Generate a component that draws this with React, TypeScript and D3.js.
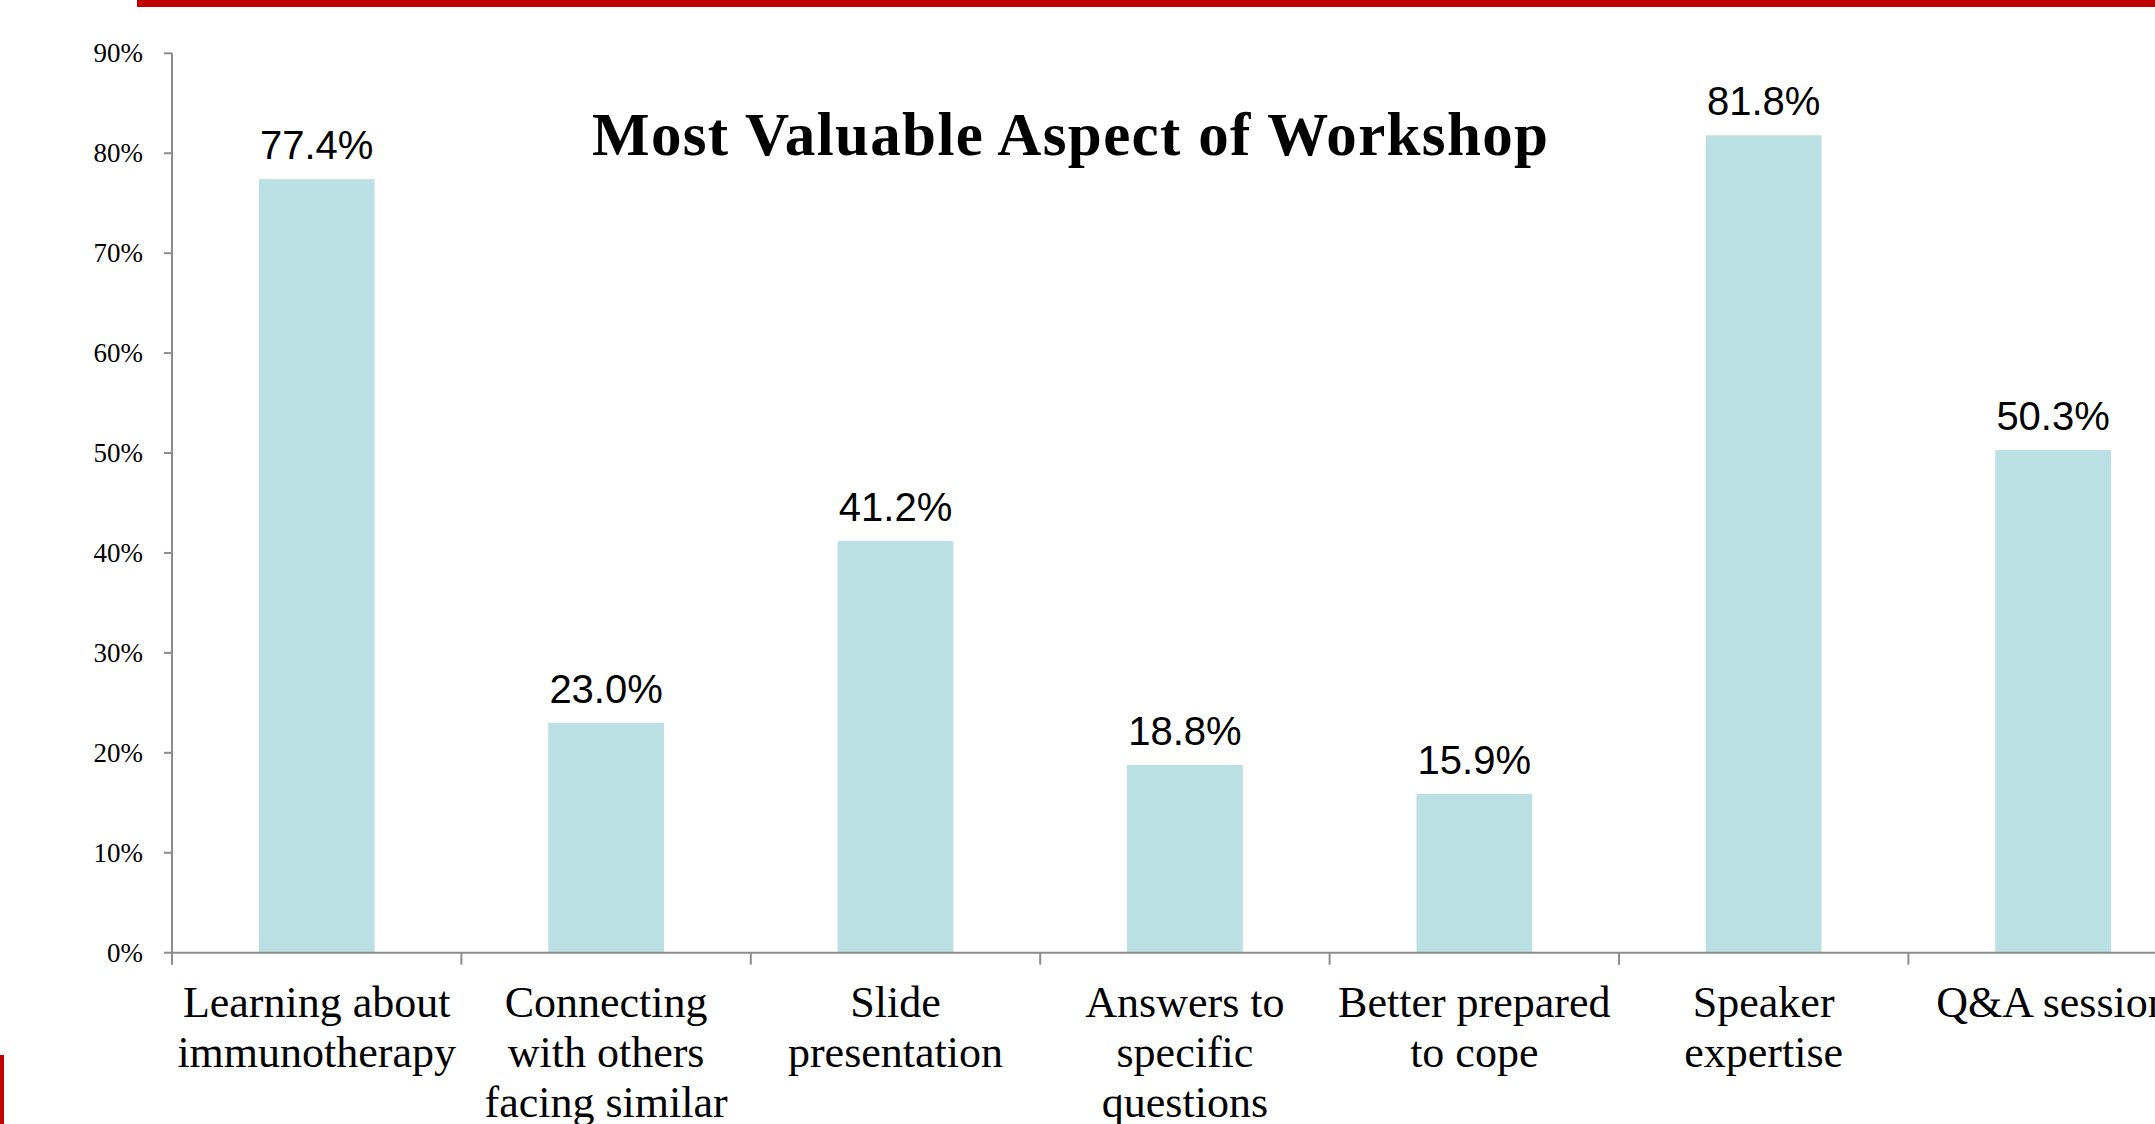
import React, { useRef, useEffect } from 'react';
import * as d3 from 'd3';

const categories = [
  'Learning about immunotherapy',
  'Connecting with others facing similar',
  'Slide presentation',
  'Answers to specific questions',
  'Better prepared to cope',
  'Speaker expertise',
  'Q&A session',
];

// label lines as they wrap under each bar
const categoryLines = [
  ['Learning about', 'immunotherapy'],
  ['Connecting', 'with others', 'facing similar'],
  ['Slide', 'presentation'],
  ['Answers to', 'specific', 'questions'],
  ['Better prepared', 'to cope'],
  ['Speaker', 'expertise'],
  ['Q&A session'],
];

const values = [77.4, 23.0, 41.2, 18.8, 15.9, 81.8, 50.3];

const yTicks = [0, 10, 20, 30, 40, 50, 60, 70, 80, 90];

const title = 'Most Valuable Aspect of Workshop';

const WIDTH = 2155;
const HEIGHT = 1124;

export default function App() {
  const svgRef = useRef<SVGSVGElement>(null);

  useEffect(() => {
    if (!svgRef.current) return;
    const svg = d3.select(svgRef.current);
    svg.selectAll('*').remove();

    const axisColor = '#8c8c8c';
    const serif = '"Liberation Serif", "Times New Roman", serif';
    const sans = '"Liberation Sans", Arial, sans-serif';

    const x0 = 172;
    const step = 289.4;

    // slots for ticks / labels
    const slot = d3.scaleBand<string>()
      .domain(categories)
      .range([x0, x0 + step * categories.length])
      .padding(0);

    // bars inside each slot
    const x = d3.scaleBand<string>()
      .domain(categories)
      .range([x0, x0 + step * categories.length])
      .paddingInner(0.6)
      .paddingOuter(0.3);

    const y = d3.scaleLinear()
      .domain([0, 90])
      .range([952.7, 53.3]);

    // red decorations
    svg.append('rect')
      .attr('x', 137).attr('y', 0)
      .attr('width', WIDTH - 137).attr('height', 7)
      .attr('fill', '#c00000');
    svg.append('rect')
      .attr('x', 0).attr('y', 1055)
      .attr('width', 4).attr('height', HEIGHT - 1055)
      .attr('fill', '#c00000');

    // bars
    svg.append('g')
      .selectAll('rect')
      .data(values)
      .join('rect')
      .attr('x', (_, i) => x(categories[i])!)
      .attr('y', d => y(d))
      .attr('width', x.bandwidth())
      .attr('height', d => y(0) - y(d))
      .attr('fill', '#bae0e3');

    // value labels
    svg.append('g')
      .selectAll('text')
      .data(values)
      .join('text')
      .attr('x', (_, i) => x(categories[i])! + x.bandwidth() / 2)
      .attr('y', d => y(d) - 20)
      .attr('text-anchor', 'middle')
      .style('font-family', sans)
      .style('font-size', '40px')
      .style('fill', '#000')
      .text(d => d.toFixed(1) + '%');

    // y axis
    const yAxis = svg.append('g').attr('transform', `translate(${x0},0)`);
    yAxis.append('line')
      .attr('x1', 0).attr('x2', 0)
      .attr('y1', y(90)).attr('y2', y(0) + 12)
      .attr('stroke', axisColor).attr('stroke-width', 2);
    yAxis.selectAll('line.tick')
      .data(yTicks)
      .join('line')
      .attr('class', 'tick')
      .attr('x1', -8).attr('x2', 0)
      .attr('y1', d => y(d)).attr('y2', d => y(d))
      .attr('stroke', axisColor).attr('stroke-width', 2);
    yAxis.selectAll('text')
      .data(yTicks)
      .join('text')
      .attr('x', -29)
      .attr('y', d => y(d))
      .attr('dy', '0.33em')
      .attr('text-anchor', 'end')
      .style('font-family', serif)
      .style('font-size', '27px')
      .style('fill', '#000')
      .text(d => d + '%');

    // x axis
    const xAxis = svg.append('g');
    xAxis.append('line')
      .attr('x1', x0).attr('x2', WIDTH)
      .attr('y1', y(0)).attr('y2', y(0))
      .attr('stroke', axisColor).attr('stroke-width', 2);
    xAxis.selectAll('line.tick')
      .data(categories)
      .join('line')
      .attr('class', 'tick')
      .attr('x1', d => slot(d)! + slot.bandwidth())
      .attr('x2', d => slot(d)! + slot.bandwidth())
      .attr('y1', y(0)).attr('y2', y(0) + 12)
      .attr('stroke', axisColor).attr('stroke-width', 2);

    // category labels
    const labels = xAxis.selectAll('text.cat')
      .data(categories)
      .join('text')
      .attr('class', 'cat')
      .attr('text-anchor', 'middle')
      .style('font-family', serif)
      .style('font-size', '44px')
      .style('fill', '#000');
    labels.each(function (d, i) {
      const cx = slot(d)! + slot.bandwidth() / 2;
      d3.select(this).selectAll('tspan')
        .data(categoryLines[i])
        .join('tspan')
        .attr('x', cx)
        .attr('y', (_, j) => 1016.7 + j * 50)
        .text(t => t);
    });

    // title
    svg.append('text')
      .attr('x', 1070)
      .attr('y', 155)
      .attr('text-anchor', 'middle')
      .attr('textLength', 956)
      .attr('lengthAdjust', 'spacing')
      .style('font-family', serif)
      .style('font-weight', 'bold')
      .style('font-size', '61px')
      .style('fill', '#000')
      .text(title);
  }, []);

  return (
    <svg
      ref={svgRef}
      width={WIDTH}
      height={HEIGHT}
      style={{ position: 'absolute', left: 0, top: 0, background: '#fff' }}
    />
  );
}
